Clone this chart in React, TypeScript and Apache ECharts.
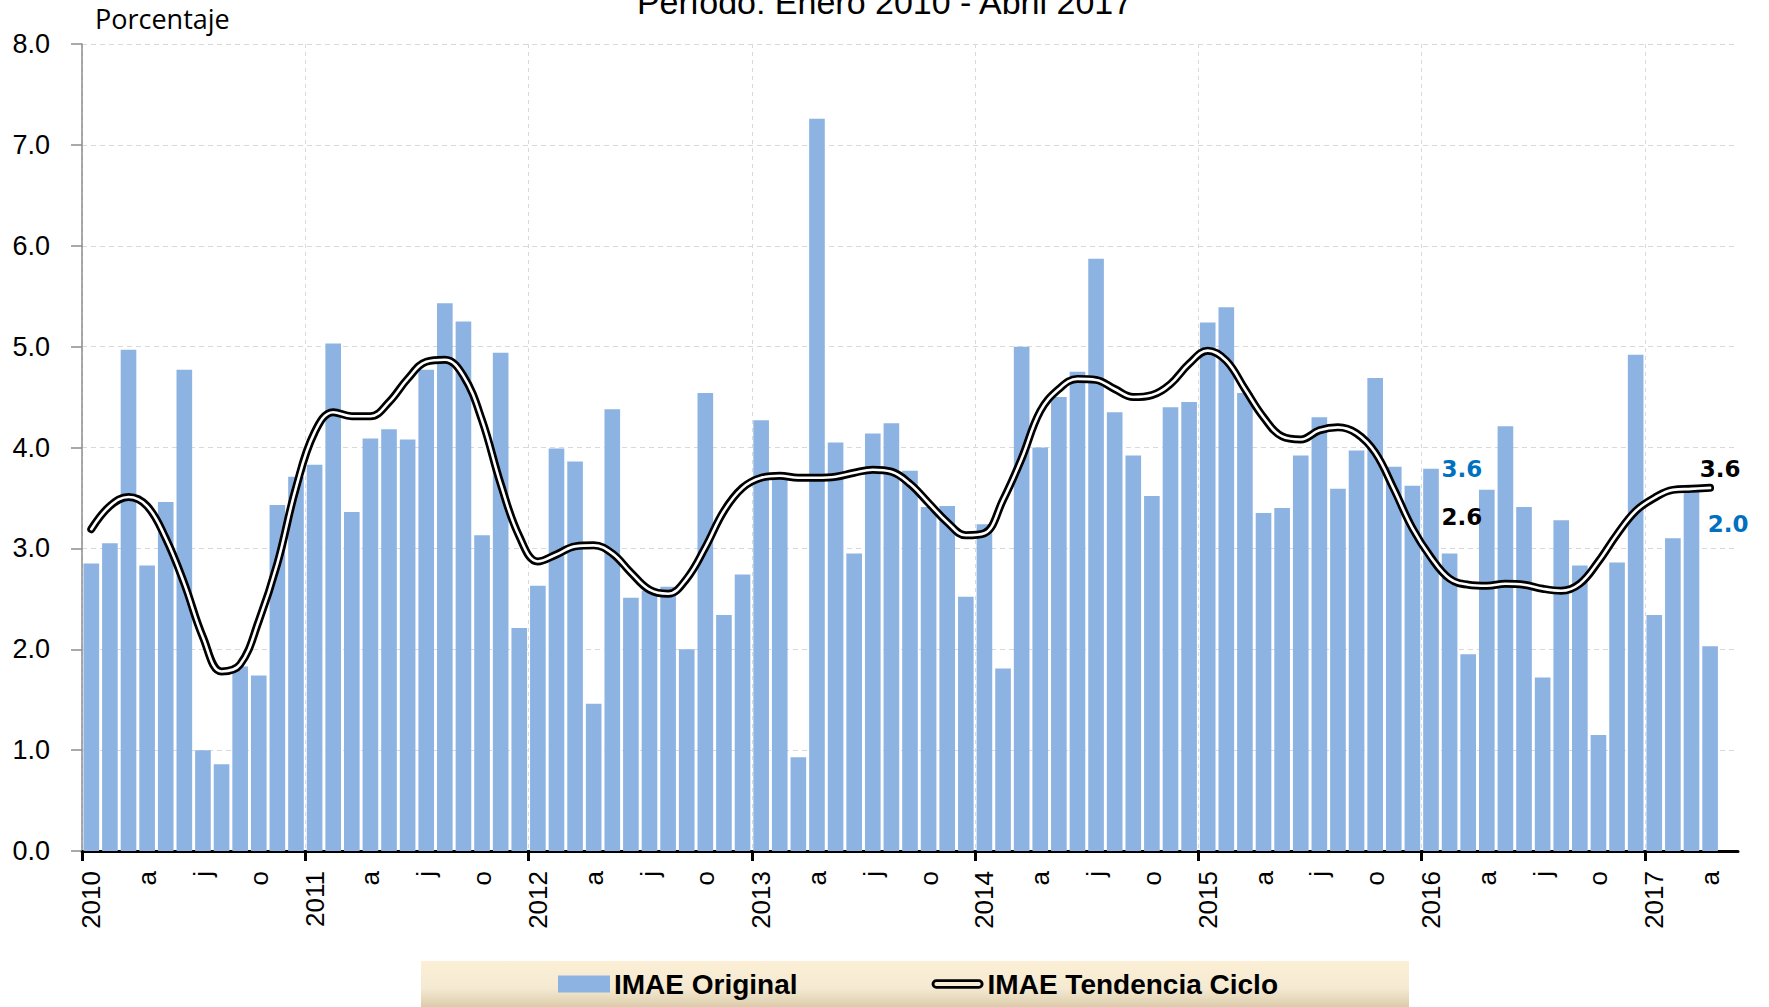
import React, { useEffect, useRef } from "react";
import * as echarts from "echarts";

// ---- data ----
const years = [2010, 2011, 2012, 2013, 2014, 2015, 2016, 2017];
const monthMarks = ["", "", "", "a", "", "", "j", "", "", "o", "", ""];

// IMAE Original, monthly, Jan 2010 - Apr 2017
const imaeOriginal = [
  2.85, 3.05, 4.97, 2.83, 3.46, 4.77, 1.0, 0.86, 1.83, 1.74, 3.43, 3.71,
  3.83, 5.03, 3.36, 4.09, 4.18, 4.08, 4.77, 5.43, 5.25, 3.13, 4.94, 2.21,
  2.63, 3.99, 3.86, 1.46, 4.38, 2.51, 2.58, 2.62, 2.0, 4.54, 2.34, 2.74,
  4.27, 3.72, 0.93, 7.26, 4.05, 2.95, 4.14, 4.24, 3.77, 3.41, 3.42, 2.52,
  3.24, 1.81, 5.0, 4.0, 4.5, 4.75, 5.87, 4.35, 3.92, 3.52, 4.4, 4.45,
  5.24, 5.39, 4.54, 3.35, 3.4, 3.92, 4.3, 3.59, 3.97, 4.69, 3.81, 3.62,
  3.79, 2.95, 1.95, 3.58, 4.21, 3.41, 1.72, 3.28, 2.83, 1.15, 2.86, 4.92,
  2.34, 3.1, 3.57, 2.03,
];

// IMAE Tendencia Ciclo
const imaeTendencia = [
  3.19, 3.42, 3.51, 3.42, 3.1, 2.65, 2.12, 1.78, 1.85, 2.28, 2.85, 3.6,
  4.15, 4.35, 4.31, 4.31, 4.45, 4.68, 4.85, 4.87, 4.71, 4.27, 3.64, 3.12,
  2.87, 2.94, 3.02, 3.03, 2.95, 2.76, 2.59, 2.55, 2.7, 3.01, 3.37, 3.6,
  3.7, 3.72, 3.7, 3.7, 3.71, 3.75, 3.78, 3.76, 3.64, 3.45, 3.26, 3.13,
  3.15, 3.48, 3.89, 4.36, 4.58, 4.68, 4.67, 4.58, 4.5, 4.52, 4.63, 4.83,
  4.96, 4.86, 4.58, 4.3, 4.11, 4.08, 4.17, 4.2, 4.14, 3.95, 3.59, 3.2,
  2.91, 2.7, 2.64, 2.63, 2.65, 2.64, 2.6, 2.58, 2.65, 2.87, 3.14, 3.37,
  3.5, 3.58, 3.59, 3.6,
];

const yTicks = [0, 1, 2, 3, 4, 5, 6, 7, 8];

// annotated points: which series, which month index
const annotations = [
  { series: "bar", index: 75, color: "#0070C0", dx: -25, dy: -21 },
  { series: "line", index: 75, color: "#000000", dx: -25, dy: -69 },
  { series: "line", index: 87, color: "#000000", dx: 10, dy: -19 },
  { series: "bar", index: 87, color: "#0070C0", dx: 18, dy: -122 },
];

// one trailing empty slot after April 2017, as in the reference axis
const slotCount = imaeOriginal.length + 1;
const categories = Array.from({ length: slotCount }, (_, i) =>
  `${years[0] + Math.floor(i / 12)}-${String((i % 12) + 1).padStart(2, "0")}`
);
const tickLabels = categories.map((_, i) =>
  i % 12 === 0 ? String(years[Math.floor(i / 12)] ?? "") : monthMarks[i % 12]
);
// year boundaries measured in months from the left edge of the axis
const yearBoundaries = years.map((_, k) => k * 12);

const SANS = "'Liberation Sans', Arial, sans-serif";

export default function App() {
  const ref = useRef<HTMLDivElement | null>(null);

  useEffect(() => {
    if (!ref.current) return;
    const chart = echarts.init(ref.current, undefined, { renderer: "svg" });

    const option: any = {
      animation: false,
      backgroundColor: "#ffffff",
      title: {
        text: "Período: Enero 2010 - Abril 2017",
        left: "center",
        top: -15,
        padding: 0,
        textStyle: {
          fontFamily: SANS,
          fontSize: 34,
          fontWeight: "normal",
          color: "#000",
        },
      },
      grid: {
        left: 82,
        right: 31,
        top: 44,
        bottom: 156,
        containLabel: false,
        outerBoundsMode: "none",
      },
      legend: {
        data: [
          { name: "IMAE Original", icon: "rect" },
          {
            name: "IMAE Tendencia Ciclo",
            icon:
              "path://M5,0H50A5,5,0,0,1,50,10H5A5,5,0,0,1,5,0Z M5,3A2,2,0,0,0,5,7H50A2,2,0,0,0,50,3Z",
          },
        ],
        left: 558,
        top: 970,
        padding: 0,
        itemWidth: 52,
        itemHeight: 17,
        itemGap: 134,
        z: 5,
        selectedMode: false,
        textStyle: {
          fontFamily: SANS,
          fontSize: 28,
          fontWeight: "bold",
          color: "#000",
          lineHeight: 28,
          padding: [0, 0, 0, -1],
        },
      },
      xAxis: [
        {
          type: "category",
          data: categories,
          boundaryGap: true,
          axisLine: { show: true, lineStyle: { color: "#000", width: 3 } },
          axisTick: { show: false },
          axisLabel: {
            interval: 0,
            rotate: 90,
            margin: 20,
            formatter: (_v: string, i: number) => tickLabels[i],
            fontFamily: SANS,
            fontSize: 26,
            color: "#000",
          },
          splitLine: {
            show: true,
            interval: (i: number) => i % 12 === 0,
            showMaxLine: false,
            lineStyle: { color: "#D9D9D9", type: [4, 4], width: 1 },
          },
        },
        {
          // month scale used only to draw the year-boundary ticks
          type: "value",
          position: "bottom",
          min: 0,
          max: slotCount,
          axisLine: { show: false },
          axisLabel: { show: false },
          splitLine: { show: false },
          axisTick: {
            show: true,
            customValues: yearBoundaries,
            length: 10,
            lineStyle: { color: "#000", width: 3 },
          },
        },
      ],
      yAxis: {
        type: "value",
        min: yTicks[0],
        max: yTicks[yTicks.length - 1],
        interval: 1,
        name: "Porcentaje",
        nameLocation: "end",
        nameGap: 26,
        nameTextStyle: {
          fontFamily: "'Open Sans', 'Noto Sans', sans-serif",
          fontSize: 27,
          color: "#000",
          align: "left",
          verticalAlign: "middle",
          padding: [0, 0, 0, 13],
        },
        axisLine: { show: true, lineStyle: { color: "#8C8C8C", width: 1.5 } },
        axisTick: { show: true, length: 11, lineStyle: { color: "#8C8C8C", width: 1.5 } },
        axisLabel: {
          margin: 32,
          formatter: (v: number) => v.toFixed(1),
          fontFamily: SANS,
          fontSize: 27,
          color: "#000",
        },
        splitLine: {
          show: true,
          lineStyle: { color: "#D9D9D9", type: [5, 4], width: 1 },
        },
      },
      series: [
        {
          name: "IMAE Original",
          type: "bar",
          data: imaeOriginal,
          barCategoryGap: "16%",
          itemStyle: { color: "#8DB3E2" },
          z: 2,
        },
        {
          name: "IMAE Tendencia Ciclo",
          type: "line",
          data: imaeTendencia,
          smooth: 0.4,
          symbol: "none",
          showSymbol: false,
          lineStyle: { color: "#000", width: 8, cap: "round" },
          itemStyle: { color: "#000" },
          z: 3,
        },
        {
          name: "tendencia-interior",
          type: "line",
          data: imaeTendencia,
          smooth: 0.4,
          symbol: "none",
          showSymbol: false,
          silent: true,
          lineStyle: { color: "#fff", width: 2.6, cap: "round" },
          itemStyle: { color: "#fff" },
          z: 4,
        },
      ],
    };

    chart.setOption(option);

    const texts = annotations.map((a) => {
      const value = a.series === "bar" ? imaeOriginal[a.index] : imaeTendencia[a.index];
      const p = chart.convertToPixel({ xAxisIndex: 0, yAxisIndex: 0 }, [a.index, value]) as number[];
      return {
        type: "text",
        x: p[0] + a.dx,
        y: p[1] + a.dy,
        z: 10,
        silent: true,
        style: {
          text: value.toFixed(1),
          fill: a.color,
          fontFamily: "'DejaVu Sans', Verdana, sans-serif",
          fontWeight: "bold",
          fontSize: 23,
          align: "center",
          verticalAlign: "middle",
        },
      };
    });

    chart.setOption({
      graphic: [
        {
          type: "rect",
          z: 0,
          silent: true,
          shape: { x: 421, y: 961, width: 988, height: 50 },
          style: {
            fill: new echarts.graphic.LinearGradient(0, 0, 0, 1, [
              { offset: 0, color: "#FCEFD6" },
              { offset: 0.55, color: "#F4EAD2" },
              { offset: 1, color: "#D6C5A2" },
            ]),
          },
        },
        ...texts,
      ],
    });

    return () => chart.dispose();
  }, []);

  return (
    <div
      ref={ref}
      style={{
        position: "fixed",
        left: 0,
        top: 0,
        width: 1769,
        height: 1007,
        background: "#fff",
      }}
    />
  );
}
